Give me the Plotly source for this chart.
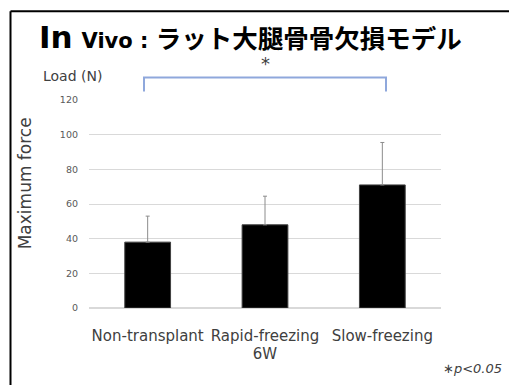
import plotly.graph_objects as go

categories = ["Non-transplant", "Rapid-freezing", "Slow-freezing"]
means = [38, 48, 71]
errors_up = [15, 16.5, 24.5]
ytick_vals = [0, 20, 40, 60, 80, 100, 120]

W, H = 509, 385
L, R, T, B = 89, 68, 99.5, 77
pw, ph = W - L - R, H - T - B

def px(x):
    return (x - L) / pw

def py(y):
    return (H - B - y) / ph

FONT = "DejaVu Sans, Verdana, Noto Sans CJK JP, sans-serif"

fig = go.Figure()
fig.add_trace(go.Bar(
    x=categories, y=means,
    marker=dict(color="black", line=dict(color="#404040", width=1)),
    error_y=dict(type="data", array=errors_up, arrayminus=[0, 0, 0],
                 symmetric=False, color="#8c8c8c", thickness=1, width=2),
    width=0.39,
))

fig.update_layout(
    width=W, height=H,
    margin=dict(l=L, r=R, t=T, b=B, pad=0),
    paper_bgcolor="white", plot_bgcolor="white",
    showlegend=False,
    font=dict(family=FONT, color="#404040"),
    xaxis=dict(showgrid=False, showline=False, ticks="", zeroline=False,
               tickfont=dict(size=15, color="#404040"),
               ticklabelstandoff=17,
               title=dict(text="6W", font=dict(size=15, color="#404040"), standoff=0),
               fixedrange=True),
    yaxis=dict(range=[0, 120], tickvals=ytick_vals, showgrid=True,
               gridcolor="#d9d9d9", gridwidth=1, zeroline=True,
               zerolinecolor="#d9d9d9", zerolinewidth=2,
               tickfont=dict(size=9.5, color="#595959"), ticks="",
               ticklabelstandoff=10, showline=False, fixedrange=True),
)

anns = [
    dict(text="<b><span style='font-size:31px'>In</span> <span style='font-size:21px'>Vivo :&nbsp;</span>ラット大腿骨骨欠損モデル</b>",
         x=px(37), y=py(36), xanchor="left", yanchor="middle",
         font=dict(size=25.5, color="black", family=FONT)),
    dict(text="Load (N)", x=px(41), y=py(75), xanchor="left", yanchor="middle",
         font=dict(size=14, color="#404040")),
    dict(text="Maximum force", x=px(25), y=py(183), xanchor="center", yanchor="middle",
         textangle=-90, font=dict(size=17, color="#404040")),
    dict(text="*", x=px(265), y=py(63), xanchor="center", yanchor="middle",
         font=dict(size=18, color="#404040")),
    dict(text="<i>∗p&lt;0.05</i>", x=px(504), y=py(369), xanchor="right", yanchor="middle",
         font=dict(size=13, color="#404040")),
]
for a in anns:
    a.update(xref="paper", yref="paper", showarrow=False)
    fig.add_annotation(**a)

# significance bracket
fig.add_shape(type="path", xref="paper", yref="paper",
              path=f"M {px(144)} {py(91)} L {px(144)} {py(77)} L {px(386)} {py(77)} L {px(386)} {py(91)}",
              line=dict(color="#8fa8dc", width=2))

# slide frame (left and top edges)
fig.add_shape(type="line", xref="paper", yref="paper",
              x0=px(10.5), x1=px(515), y0=py(10.5), y1=py(10.5),
              line=dict(color="black", width=2))
fig.add_shape(type="line", xref="paper", yref="paper",
              x0=px(10.5), x1=px(10.5), y0=py(10.5), y1=py(395),
              line=dict(color="black", width=2))

fig.write_html("out.html",
               config={"displayModeBar": False, "staticPlot": True},
               post_script="document.body.style.margin='0';document.body.style.overflow='hidden';")
